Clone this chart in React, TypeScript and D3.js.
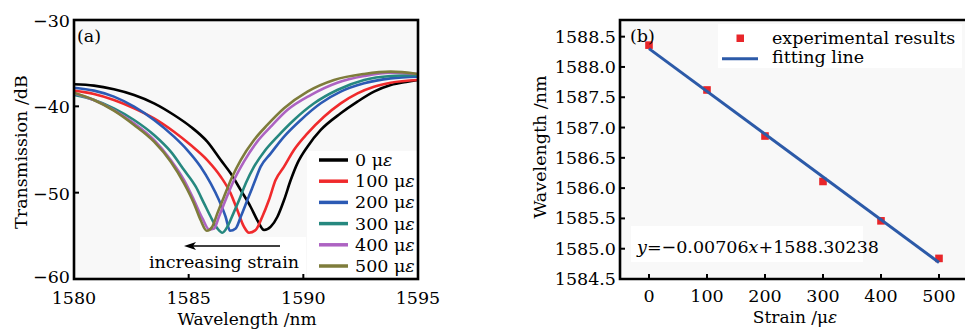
import React from 'react';
import * as d3 from 'd3';

// ---------- Panel (a): transmission spectra ----------
const strainLevels = [0, 100, 200, 300, 400, 500];
const seriesColors = ['#000000', '#f02a2c', '#2c5ab4', '#26887f', '#ad63c2', '#7e7c3b'];

const spectrum0: [number, number][] = [
  [1580.0, -37.45], [1580.87, -37.6], [1581.74, -38.03], [1582.62, -38.69], [1583.49, -39.65],
  [1584.36, -41.0], [1585.09, -42.36], [1585.81, -44.09], [1586.4, -46.22], [1586.83, -47.76],
  [1587.27, -49.7], [1587.7, -51.63], [1587.99, -53.17], [1588.29, -54.33], [1588.58, -53.94],
  [1588.87, -52.79], [1589.16, -50.85], [1589.45, -48.54], [1589.74, -46.61], [1590.18, -44.67],
  [1590.76, -42.74], [1591.63, -40.81], [1592.36, -39.46], [1593.08, -38.3], [1593.81, -37.53],
  [1594.54, -37.14], [1595.0, -36.95],
];
const spectrum100: [number, number][] = [
  [1580.0, -38.18], [1580.87, -38.57], [1581.74, -39.27], [1582.62, -40.23], [1583.49, -41.39],
  [1584.36, -42.94], [1585.09, -44.48], [1585.81, -46.22], [1586.4, -48.15], [1586.83, -50.08],
  [1587.12, -52.01], [1587.41, -53.94], [1587.63, -54.64], [1587.92, -54.33], [1588.21, -52.79],
  [1588.5, -50.85], [1588.79, -48.54], [1589.16, -46.99], [1589.59, -45.06], [1590.18, -43.13],
  [1590.9, -41.2], [1591.63, -39.65], [1592.36, -38.49], [1593.08, -37.72], [1593.81, -37.26],
  [1595.0, -36.95],
];
const spectrum200: [number, number][] = [
  [1580.0, -37.84], [1580.87, -38.18], [1581.74, -38.88], [1582.62, -40.04], [1583.49, -41.58],
  [1584.36, -43.51], [1584.94, -45.06], [1585.52, -46.99], [1585.96, -48.92], [1586.32, -50.85],
  [1586.61, -52.79], [1586.8, -54.41], [1587.05, -54.14], [1587.27, -52.79], [1587.56, -50.85],
  [1587.85, -48.92], [1588.14, -46.99], [1588.58, -45.45], [1589.16, -43.51], [1589.89, -41.58],
  [1590.76, -39.65], [1591.63, -38.3], [1592.65, -37.34], [1593.81, -36.76], [1595.0, -36.56],
];
const spectrum300: [number, number][] = [
  [1580.0, -38.69], [1580.87, -39.27], [1581.74, -40.23], [1582.62, -41.58], [1583.49, -43.32],
  [1584.22, -45.25], [1584.8, -47.38], [1585.31, -49.31], [1585.67, -51.24], [1585.96, -52.79],
  [1586.25, -54.14], [1586.47, -54.64], [1586.69, -53.94], [1586.95, -52.4], [1587.2, -50.85],
  [1587.49, -48.92], [1587.85, -46.99], [1588.29, -45.25], [1588.87, -43.51], [1589.59, -41.58],
  [1590.47, -39.65], [1591.48, -38.11], [1592.65, -36.95], [1593.81, -36.49], [1595.0, -36.37],
];
const spectrum400: [number, number][] = [
  [1580.0, -38.49], [1580.87, -39.27], [1581.74, -40.43], [1582.62, -41.97], [1583.49, -43.9],
  [1584.22, -46.22], [1584.8, -48.54], [1585.23, -50.85], [1585.6, -52.98], [1585.89, -54.25],
  [1586.11, -54.14], [1586.32, -52.79], [1586.61, -50.85], [1586.98, -48.54], [1587.41, -46.41],
  [1587.99, -44.09], [1588.58, -42.36], [1589.3, -40.43], [1590.32, -38.69], [1591.48, -37.26],
  [1592.65, -36.49], [1593.81, -36.1], [1595.0, -36.25],
];
const spectrum500: [number, number][] = [
  [1580.0, -38.42], [1580.87, -39.27], [1581.74, -40.5], [1582.62, -42.16], [1583.49, -44.09],
  [1584.22, -46.41], [1584.8, -48.92], [1585.23, -51.24], [1585.52, -53.17], [1585.79, -54.41],
  [1586.03, -53.94], [1586.25, -52.4], [1586.54, -50.47], [1586.9, -48.15], [1587.27, -46.22],
  [1587.85, -43.9], [1588.43, -42.16], [1589.16, -40.23], [1590.18, -38.3], [1591.34, -36.95],
  [1592.65, -36.25], [1593.81, -35.98], [1595.0, -36.25],
];
const spectra = [spectrum0, spectrum100, spectrum200, spectrum300, spectrum400, spectrum500];

const xTicksA = [1580, 1585, 1590, 1595];
const yTicksA = [-30, -40, -50, -60];

// ---------- Panel (b): resonance wavelength vs strain ----------
const strainPoints = [0, 100, 200, 300, 400, 500];
const peakWavelengths = [1588.36, 1587.62, 1586.86, 1586.11, 1585.46, 1584.84];
const fitSlope = -0.00706;
const fitIntercept = 1588.30238;
const xTicksB = [0, 100, 200, 300, 400, 500];
const yTicksB = [1584.5, 1585.0, 1585.5, 1586.0, 1586.5, 1587.0, 1587.5, 1588.0, 1588.5];

const FONT = 'DejaVu Serif';
const FS = 17.5;

export default function App() {
  // panel a geometry
  const aL = 74, aR = 418, aT = 20, aB = 279;
  const xA = d3.scaleLinear().domain([1580, 1595]).range([aL, aR]);
  const yA = d3.scaleLinear().domain([-60, -30]).range([aB, aT]);
  const lineA = d3
    .line<[number, number]>()
    .x((d) => xA(d[0]))
    .y((d) => yA(d[1]))
    .curve(d3.curveMonotoneX);

  // panel b geometry
  const bL = 620, bR = 968, bT = 20, bB = 279;
  const xB = d3.scaleLinear().domain([-50, 550]).range([bL, bR]);
  const yB = d3.scaleLinear().domain([1584.5, 1588.775]).range([bB, bT]);
  const fitData: [number, number][] = [0, 500].map((s) => [s, fitSlope * s + fitIntercept]);
  const fitLine = d3
    .line<[number, number]>()
    .x((d) => xB(d[0]))
    .y((d) => yB(d[1]));

  const fmtA = (v: number) => (v < 0 ? '\u2212' + Math.abs(v) : String(v));
  const fmtB = d3.format('.1f');

  const legendY0 = 160;
  const legendDy = 21.2;

  return (
    <svg
      width={965}
      height={329}
      style={{ position: 'absolute', left: 0, top: 0, background: '#ffffff' }}
      fontFamily={FONT}
      fontSize={FS}
    >
      {/* ================= Panel (a) ================= */}
      <defs>
        <clipPath id="clipA">
          <rect x={aL} y={aT} width={aR - aL} height={aB - aT} />
        </clipPath>
        <clipPath id="clipB">
          <rect x={bL} y={bT} width={bR - bL} height={bB - bT} />
        </clipPath>
      </defs>
      <rect x={aL} y={aT} width={aR - aL} height={aB - aT} fill="#f8f8f8" />
      {/* white boxes behind legend and annotation */}
      <rect x={307} y={151} width={110} height={127} fill="#ffffff" />
      <rect x={140} y={237} width={166} height={40} fill="#ffffff" />

      <g clipPath="url(#clipA)">
        {spectra.map((s, i) => (
          <path key={i} d={lineA(s) || ''} fill="none" stroke={seriesColors[i]} strokeWidth={2.6} strokeLinejoin="round" />
        ))}
      </g>

      {/* ticks a */}
      {xTicksA.slice(1, -1).map((t) => (
        <line key={'xa' + t} x1={xA(t)} x2={xA(t)} y1={aB} y2={aB - 5} stroke="#000" strokeWidth={2} />
      ))}
      {yTicksA.slice(1, -1).map((t) => (
        <line key={'ya' + t} x1={aL} x2={aL + 5} y1={yA(t)} y2={yA(t)} stroke="#000" strokeWidth={2} />
      ))}
      <rect x={aL} y={aT} width={aR - aL} height={aB - aT} fill="none" stroke="#000" strokeWidth={2.6} />

      {/* tick labels a */}
      {xTicksA.map((t) => (
        <text key={'xla' + t} x={xA(t)} y={304} textAnchor="middle">
          {t}
        </text>
      ))}
      {yTicksA.map((t) => (
        <text key={'yla' + t} x={70} y={yA(t) + (t === -60 ? 4 : 7)} textAnchor="end">
          {fmtA(t)}
        </text>
      ))}
      <text x={(aL + aR) / 2 + 1} y={324.5} textAnchor="middle" fontSize={17}>
        Wavelength /nm
      </text>
      <text transform={`translate(27,${152}) rotate(-90)`} textAnchor="middle">
        Transmission /dB
      </text>
      <text x={77} y={42}>(a)</text>

      {/* legend a */}
      {strainLevels.map((s, i) => (
        <g key={'lg' + s}>
          <line x1={319} x2={348} y1={legendY0 + i * legendDy} y2={legendY0 + i * legendDy} stroke={seriesColors[i]} strokeWidth={3.5} />
          <text x={355} y={legendY0 + i * legendDy + 6}>
            {s} μ<tspan fontStyle="italic">ε</tspan>
          </text>
        </g>
      ))}

      {/* annotation arrow */}
      <line x1={280} x2={192} y1={246} y2={246} stroke="#000" strokeWidth={1.5} />
      <path d="M184,246 L196,242 L193,246 L196,250 Z" fill="#000" />
      <text x={224} y={268} textAnchor="middle">
        increasing strain
      </text>

      {/* ================= Panel (b) ================= */}
      <rect x={bL} y={bT} width={bR - bL} height={bB - bT} fill="#f8f8f8" />
      <rect x={718} y={24} width={244} height={44} fill="#ffffff" />
      <rect x={631} y={226} width={232} height={36} fill="#ffffff" />

      <g clipPath="url(#clipB)">
        {strainPoints.map((s, i) => (
          <rect key={'pt' + s} x={xB(s) - 3.8} y={yB(peakWavelengths[i]) - 3.8} width={7.6} height={7.6} fill="#e8262a" />
        ))}
        <path d={fitLine(fitData) || ''} fill="none" stroke="#2c5aa8" strokeWidth={3} />
      </g>

      {xTicksB.map((t) => (
        <line key={'xb' + t} x1={xB(t)} x2={xB(t)} y1={bB} y2={bB - 5} stroke="#000" strokeWidth={2} />
      ))}
      {yTicksB.slice(1).map((t) => (
        <line key={'yb' + t} x1={bL} x2={bL + 5} y1={yB(t)} y2={yB(t)} stroke="#000" strokeWidth={2} />
      ))}
      <path d={`M${bR},${bT} L${bL},${bT} L${bL},${bB} L${bR},${bB}`} fill="none" stroke="#000" strokeWidth={2.6} />

      {xTicksB.map((t) => (
        <text key={'xlb' + t} x={xB(t)} y={302} textAnchor="middle">
          {t}
        </text>
      ))}
      {yTicksB.map((t) => (
        <text key={'ylb' + t} x={616} y={yB(t) + 6} textAnchor="end">
          {fmtB(t)}
        </text>
      ))}
      <text x={795} y={323} textAnchor="middle" fontSize={17}>
        Strain /μ<tspan fontStyle="italic">ε</tspan>
      </text>
      <text transform={`translate(546,${147}) rotate(-90)`} textAnchor="middle">
        Wavelength /nm
      </text>
      <text x={630} y={42}>(b)</text>

      {/* legend b */}
      <rect x={736.5} y={34.5} width={7.5} height={7.5} fill="#e8262a" />
      <text x={772} y={44}>experimental results</text>
      <line x1={722} x2={758} y1={58.7} y2={58.7} stroke="#2c5aa8" strokeWidth={3} />
      <text x={772} y={63}>fitting line</text>

      <text x={637} y={253}>
        <tspan fontStyle="italic">y</tspan>=−0.00706<tspan fontStyle="italic">x</tspan>+1588.30238
      </text>
    </svg>
  );
}
